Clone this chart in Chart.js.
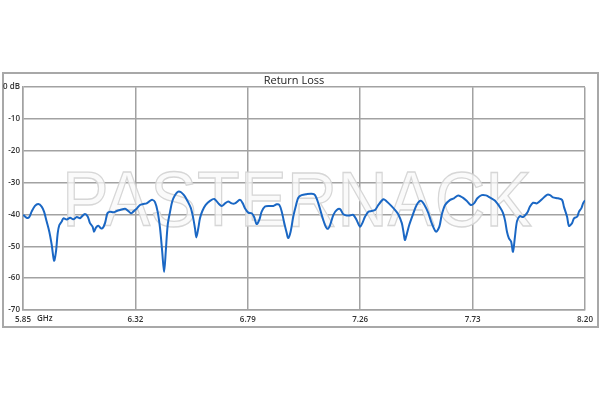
<!DOCTYPE html>
<html>
<head>
<meta charset="utf-8">
<script src="https://cdn.jsdelivr.net/npm/chart.js@4/dist/chart.umd.min.js"></script>
<style>
  html, body { margin: 0; padding: 0; background: #fff; }
  #wrap { width: 600px; height: 400px; }
</style>
</head>
<body>
<div id="wrap"><canvas id="c" width="600" height="400"></canvas></div>
<script>
// Frequency (GHz)
const freqGHz = [5.851,5.865,5.876,5.886,5.900,5.914,5.928,5.938,5.949,5.960,5.970,5.980,5.988,5.995,6.002,6.012,6.019,6.033,6.047,6.060,6.075,6.088,6.095,6.109,6.121,6.130,6.141,6.147,6.155,6.165,6.175,6.183,6.193,6.203,6.214,6.228,6.242,6.256,6.277,6.290,6.302,6.311,6.325,6.339,6.353,6.367,6.381,6.391,6.402,6.413,6.423,6.432,6.440,6.447,6.455,6.465,6.474,6.486,6.499,6.511,6.524,6.539,6.552,6.562,6.569,6.575,6.583,6.590,6.600,6.614,6.632,6.650,6.667,6.681,6.695,6.708,6.723,6.736,6.757,6.769,6.778,6.792,6.806,6.816,6.827,6.838,6.848,6.862,6.880,6.897,6.911,6.922,6.932,6.941,6.953,6.959,6.969,6.980,6.992,7.001,7.015,7.036,7.057,7.071,7.085,7.099,7.113,7.124,7.134,7.148,7.162,7.176,7.189,7.204,7.217,7.231,7.245,7.259,7.269,7.280,7.294,7.308,7.322,7.336,7.357,7.371,7.389,7.406,7.419,7.434,7.441,7.447,7.454,7.465,7.480,7.496,7.513,7.527,7.545,7.559,7.577,7.591,7.601,7.615,7.636,7.652,7.670,7.689,7.705,7.722,7.736,7.750,7.768,7.786,7.803,7.824,7.845,7.857,7.866,7.874,7.882,7.891,7.899,7.907,7.916,7.928,7.941,7.958,7.970,7.983,7.999,8.020,8.041,8.054,8.066,8.087,8.104,8.112,8.125,8.133,8.146,8.154,8.167,8.175,8.185,8.192,8.200];
// Return loss (dB)
const returnLossDb = [-40.1,-41.0,-40.8,-39.1,-37.3,-36.7,-37.5,-39.1,-42.2,-45.4,-49.5,-54.5,-51.6,-45.9,-43.3,-42.2,-41.2,-41.6,-41.0,-41.5,-40.8,-41.2,-40.7,-39.8,-40.7,-42.7,-43.8,-45.4,-44.1,-43.5,-44.3,-44.3,-42.7,-39.6,-39.1,-39.3,-38.9,-38.6,-38.2,-38.9,-39.6,-39.1,-38.2,-37.0,-36.7,-36.5,-35.7,-35.4,-36.1,-39.1,-44.3,-51.6,-58.1,-51.6,-43.3,-39.1,-35.9,-33.9,-32.8,-33.0,-34.0,-35.9,-38.0,-41.2,-44.3,-47.2,-44.3,-41.2,-38.9,-37.0,-35.7,-35.1,-36.5,-37.3,-36.5,-35.9,-36.5,-36.5,-35.4,-36.5,-38.0,-39.4,-39.6,-40.7,-43.0,-41.7,-39.1,-37.5,-37.3,-37.3,-36.8,-37.0,-39.1,-42.2,-45.9,-47.4,-45.4,-40.7,-37.0,-34.7,-33.9,-33.6,-33.5,-33.9,-36.5,-40.1,-43.3,-44.5,-43.3,-40.1,-38.6,-38.3,-39.9,-40.3,-40.3,-40.1,-41.7,-43.8,-42.7,-40.7,-39.1,-38.9,-38.6,-37.0,-35.2,-35.9,-37.2,-38.6,-39.9,-42.7,-45.5,-48.0,-46.4,-43.3,-40.1,-37.0,-35.7,-36.8,-39.6,-42.7,-45.4,-43.8,-40.1,-37.0,-35.4,-34.9,-34.0,-34.7,-35.7,-37.0,-36.5,-34.9,-33.9,-34.0,-34.7,-35.7,-37.8,-39.5,-42.0,-45.5,-47.5,-48.5,-51.7,-47.0,-42.0,-40.5,-40.8,-39.5,-37.5,-36.3,-36.5,-35.2,-33.8,-33.9,-34.6,-34.9,-35.4,-37.6,-40.7,-43.6,-42.7,-41.2,-40.7,-39.1,-38.0,-36.5,-35.5];
// Axis ticks
const xTicksGHz = [5.85, 6.32, 6.79, 7.26, 7.73, 8.20];
const yTicksDb = [0, -10, -20, -30, -40, -50, -60, -70];
const chartTitle = "Return Loss";
const xUnit = "GHz";
const watermark = "PASTERNACK";

const points = freqGHz.map((f, i) => ({ x: f, y: returnLossDb[i] }));
const GRID = '#a2a2a2';
const FONT = "'Open Sans', 'Liberation Sans', sans-serif";

const decor = {
  id: 'decor',
  beforeDraw(chart) {
    const ctx = chart.ctx;
    ctx.save();
    ctx.fillStyle = '#fff';
    ctx.fillRect(0, 0, chart.width, chart.height);
    ctx.strokeStyle = '#a8a8a8';
    ctx.lineWidth = 2;
    ctx.strokeRect(3, 73, 595, 254);
    ctx.restore();
  },
  beforeDatasetsDraw(chart) {
    const ctx = chart.ctx;
    const a = chart.chartArea;
    ctx.save();
    ctx.font = "78px 'Liberation Sans', Arial, sans-serif";
    const w = ctx.measureText(watermark).width;
    const cx = (a.left + a.right) / 2 - 7;
    const cy = 226;
    ctx.translate(cx, cy);
    ctx.scale(470 / w, 1);
    ctx.textAlign = 'center';
    ctx.textBaseline = 'alphabetic';
    ctx.fillStyle = 'rgba(248,248,248,0.75)';
    ctx.fillText(watermark, 0, 0);
    ctx.strokeStyle = 'rgba(210,210,210,0.9)';
    ctx.lineWidth = 1.3;
    ctx.strokeText(watermark, 0, 0);
    ctx.restore();
  },
  afterDraw(chart) {
    const ctx = chart.ctx;
    const a = chart.chartArea;
    ctx.save();
    ctx.font = "600 8px " + FONT;
    ctx.fillStyle = '#333';
    ctx.textBaseline = 'middle';
    ctx.textAlign = 'left';
    ctx.fillText(xUnit, a.left + 14, a.bottom + 9);
    ctx.restore();
  }
};

new Chart(document.getElementById('c'), {
  type: 'line',
  data: {
    datasets: [{
      data: points,
      borderColor: '#1a67c4',
      borderWidth: 2,
      pointRadius: 0,
      tension: 0.3,
      fill: false
    }]
  },
  options: {
    responsive: false,
    animation: false,
    events: [],
    layout: { padding: { left: 3, right: 15, top: 73, bottom: 73 } },
    plugins: {
      legend: { display: false },
      tooltip: { enabled: false },
      title: {
        display: true,
        text: chartTitle,
        color: '#222',
        font: { family: FONT, size: 11, weight: 'normal' },
        padding: { top: 1, bottom: 0 }
      }
    },
    scales: {
      x: {
        type: 'linear',
        min: xTicksGHz[0],
        max: xTicksGHz[xTicksGHz.length - 1],
        afterBuildTicks: (s) => { s.ticks = xTicksGHz.map(v => ({ value: v })); },
        afterFit: (s) => { s.height = 17; },
        grid: { color: GRID, lineWidth: 1.5, drawTicks: false },
        border: { color: GRID, width: 1.5 },
        ticks: {
          color: '#333',
          font: { family: FONT, size: 8, weight: '600' },
          padding: 5,
          maxRotation: 0,
          autoSkip: false,
          callback: (v) => Number(v).toFixed(2)
        }
      },
      y: {
        min: -70,
        max: 0,
        afterBuildTicks: (s) => { s.ticks = yTicksDb.map(v => ({ value: v })); },
        afterFit: (s) => { s.width = 20; },
        grid: { color: GRID, lineWidth: 1.5, drawTicks: false },
        border: { color: GRID, width: 1.5 },
        ticks: {
          color: '#333',
          font: { family: FONT, size: 8, weight: '600' },
          padding: 3,
          autoSkip: false,
          callback: (v) => v === 0 ? '0 dB' : String(v)
        }
      }
    }
  },
  plugins: [decor]
});
</script>
</body>
</html>
